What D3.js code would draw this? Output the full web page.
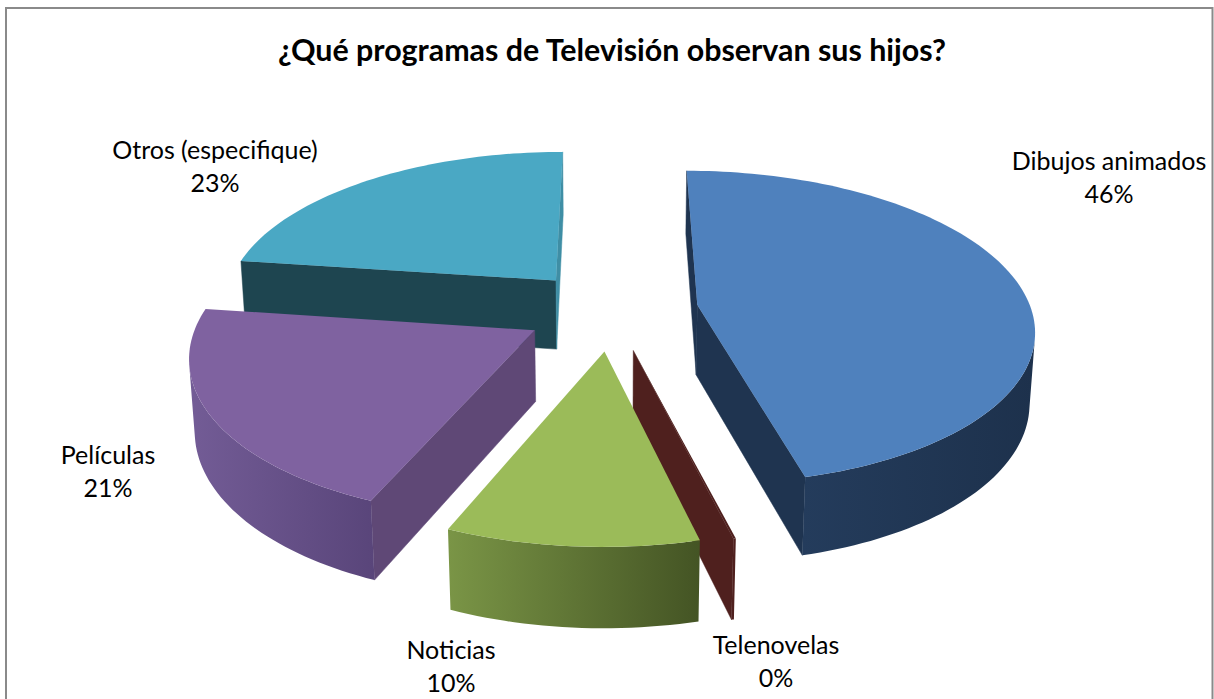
<!DOCTYPE html>
<html>
<head>
<meta charset="utf-8">
<script src="https://cdn.jsdelivr.net/npm/d3@7"></script>
<style>
  html, body { margin: 0; padding: 0; background: #fff; overflow: hidden; }
  text { font-family: Lato, "Open Sans", sans-serif; fill: #000; }
</style>
</head>
<body>
<svg id="chart" width="1214" height="699"></svg>
<script>
const chartTitle = "¿Qué programas de Televisión observan sus hijos?";
const categories = ["Dibujos animados", "Telenovelas", "Noticias", "Películas", "Otros (especifique)"];
const values = [46.2, 0.1, 10.2, 20.9, 22.9];

const topColors = ["#4f81bd", "#4f201e", "#9bbb59", "#7f62a0", "#4aa8c4"];
const faceColors = ["#1f3450", "#4f201e", "#4a5a2a", "#5f4876", "#1e4550"];
const endFaceColors = ["#1f3450", "#4f201e", "#4a5a2a", "#5f4876", "#3f8ea5"];
const wallLeft = ["#243c5c", "#4f201e", "#7a9546", "#735c96", "#1e4550"];
const wallRight = ["#1d314c", "#4f201e", "#445424", "#59457a", "#1e4550"];

// where the labels sit, centre of the first text line
const labelAnchors = [[1109, 162], [776, 646], [451, 651], [108, 456], [215, 151]];

// projection of the pie plane (unit radius) on the screen
const view = {cx: 611.5, cy: 310, a: 334, b: 154.6, p: 0.1416, depth: 71, q: 0.013, explode: 0.26};

function project(X, Y, Z) {
  const w = 1 - view.p * Y + view.q * Z;
  return [view.cx + view.a * X / w, view.cy + (view.b * Y + view.depth * Z) / w];
}

const svg = d3.select("#chart");
const defs = svg.append("defs");
const poly = d3.line().curve(d3.curveLinearClosed);

// chart frame, the bottom edge is cut off in the picture
svg.append("path")
  .attr("d", "M6,699V8H1212.5V699")
  .attr("fill", "none")
  .attr("stroke", "#8a8a8a")
  .attr("stroke-width", 2);

svg.append("text")
  .attr("x", 612)
  .attr("y", 61)
  .attr("text-anchor", "middle")
  .attr("font-size", 30.4)
  .attr("font-weight", 700)
  .text(chartTitle);

const arcs = d3.pie().sort(null).value(d => d)(values);
const total = d3.sum(values);
const percent = d3.format(".0%");
const drawOrder = [4, 3, 0, 1, 2];

drawOrder.forEach(i => {
  const d = arcs[i];
  const g = svg.append("g");
  const mid = (d.startAngle + d.endAngle) / 2;
  const ox = view.explode * Math.sin(mid);
  const oy = -view.explode * Math.cos(mid);
  const n = Math.max(2, Math.ceil((d.endAngle - d.startAngle) * 40));
  const angles = d3.range(n + 1).map(k => d.startAngle + (d.endAngle - d.startAngle) * k / n);
  const rim = Z => angles.map(t => project(ox + Math.sin(t), oy - Math.cos(t), Z));
  const top = rim(0);
  const bottom = rim(1);
  const apexTop = project(ox, oy, 0);
  const apexBottom = project(ox, oy, 1);

  // flat cut faces
  const faces = [
    {pts: [apexTop, top[0], bottom[0], apexBottom], color: faceColors[i]},
    {pts: [top[n], apexTop, apexBottom, bottom[n]], color: endFaceColors[i]}
  ];
  faces.filter(f => d3.polygonArea(f.pts) > 0).forEach(f => {
    g.append("path").attr("d", poly(f.pts)).attr("fill", f.color).attr("stroke", f.color).attr("stroke-width", 0.5);
  });

  // outer wall, only the part turned to the viewer
  const front = d3.range(n).filter(k => d3.polygonArea([top[k], top[k + 1], bottom[k + 1], bottom[k]]) > 0);
  if (front.length) {
    const k0 = d3.min(front), k1 = d3.max(front) + 1;
    const pts = top.slice(k0, k1 + 1).concat(bottom.slice(k0, k1 + 1).reverse());
    const xr = d3.extent(pts, p => p[0]);
    const grad = defs.append("linearGradient")
      .attr("id", "wall" + i)
      .attr("gradientUnits", "userSpaceOnUse")
      .attr("x1", xr[0]).attr("x2", xr[1]).attr("y1", 0).attr("y2", 0);
    grad.append("stop").attr("offset", 0).attr("stop-color", wallLeft[i]);
    grad.append("stop").attr("offset", 1).attr("stop-color", wallRight[i]);
    g.append("path").attr("d", poly(pts)).attr("fill", "url(#wall" + i + ")");
  }

  g.append("path")
    .attr("d", poly([apexTop].concat(top)))
    .attr("fill", topColors[i]);
});

categories.forEach((name, i) => {
  const t = svg.append("text")
    .attr("x", labelAnchors[i][0])
    .attr("y", labelAnchors[i][1])
    .attr("text-anchor", "middle")
    .attr("font-size", 25);
  t.append("tspan").attr("x", labelAnchors[i][0]).attr("dy", "0.3em").text(name);
  t.append("tspan").attr("x", labelAnchors[i][0]).attr("dy", 33).text(percent(values[i] / total));
});
</script>
</body>
</html>
